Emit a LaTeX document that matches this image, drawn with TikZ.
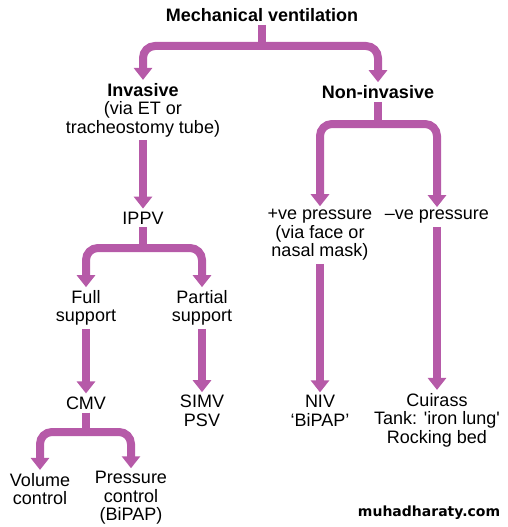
\documentclass[tikz,border=0pt]{standalone}
\usepackage{fontspec}
\setmainfont{Liberation Sans}
\newfontfamily\markfont{DejaVu Sans}
\usetikzlibrary{arrows.meta}
\definecolor{flowpink}{RGB}{182,90,168}

\begin{document}
\begin{tikzpicture}[x = 1pt, y = -1pt]
	% Fix the page size
	\useasboundingbox (0, 0) rectangle (507, 527);

	% Styles for the labels and the thick arrows
	\tikzset{label text/.style = {align = center, inner sep = 3pt, font = \fontsize{18}{18.5}\selectfont}}
	\tikzset{flow line/.style = {draw = flowpink, line width = 8pt}}
	\tikzset{flow arrow/.style = {flow line, rounded corners = 12pt, -{Triangle[width = 18pt, length = 12pt]}}}

	% Define the junctions of the branches
	\coordinate (mechbar) at (262, 46);
	\coordinate (noninvbar) at (378, 124);
	\coordinate (ippvbar) at (143, 248);
	\coordinate (cmvbar) at (86, 432);

	% Place the labels
	\node[label text, font = \fontsize{18}{18.5}\selectfont\bfseries] (mech) at (262, 15) {Mechanical ventilation};
	\node[label text] (inv) at (143, 110) {{\bfseries Invasive}\\(via ET or\\tracheostomy tube)};
	\node[label text, font = \fontsize{18}{18.5}\selectfont\bfseries] (noninv) at (378, 92) {Non-invasive};
	\node[label text] (ippv) at (143, 218) {IPPV};
	\node[label text] (full) at (86, 308) {Full\\support};
	\node[label text] (partial) at (202, 308) {Partial\\support};
	\node[label text] (cmv) at (86, 403) {CMV};
	\node[label text] (simv) at (202, 411) {SIMV\\PSV};
	\node[label text] (volume) at (40, 489) {Volume\\control};
	\node[label text] (pressure) at (131, 498) {Pressure\\control\\(BiPAP)};
	\node[label text] (positive) at (320, 235) {+ve pressure\\(via face or\\nasal mask)};
	\node[label text] (negative) at (437, 217) {--ve pressure};
	\node[label text] (niv) at (320, 411) {NIV\\`BiPAP'};
	\node[label text] (cuirass) at (437, 420) {Cuirass\\Tank: \textquotesingle iron lung\textquotesingle\\Rocking bed};
	\node[font = \markfont\bfseries\fontsize{14}{16}\selectfont] (mark) at (429, 513) {muhadharaty.com};

	% Draw the branches
	\draw[flow line] (mech.south) -- (mechbar);
	\draw[flow arrow] (mechbar) -| (inv.north);
	\draw[flow arrow] (mechbar) -| (noninv.north);

	\draw[flow line] (noninv.south) -- (noninvbar);
	\draw[flow arrow] (noninvbar) -| (positive.north);
	\draw[flow arrow] (noninvbar) -| (negative.north);

	\draw[flow arrow] (inv.south) -- (ippv.north);

	\draw[flow line] (ippv.south) -- (ippvbar);
	\draw[flow arrow] (ippvbar) -| (full.north);
	\draw[flow arrow] (ippvbar) -| (partial.north);

	\draw[flow arrow] (full.south) -- (cmv.north);
	\draw[flow arrow] (partial.south) -- (simv.north);

	\draw[flow line] (cmv.south) -- (cmvbar);
	\draw[flow arrow] (cmvbar) -| (volume.north);
	\draw[flow arrow] (cmvbar) -| (pressure.north);

	\draw[flow arrow] (positive.south) -- (niv.north);
	\draw[flow arrow] (negative.south) -- (cuirass.north);

\end{tikzpicture}
\end{document}
